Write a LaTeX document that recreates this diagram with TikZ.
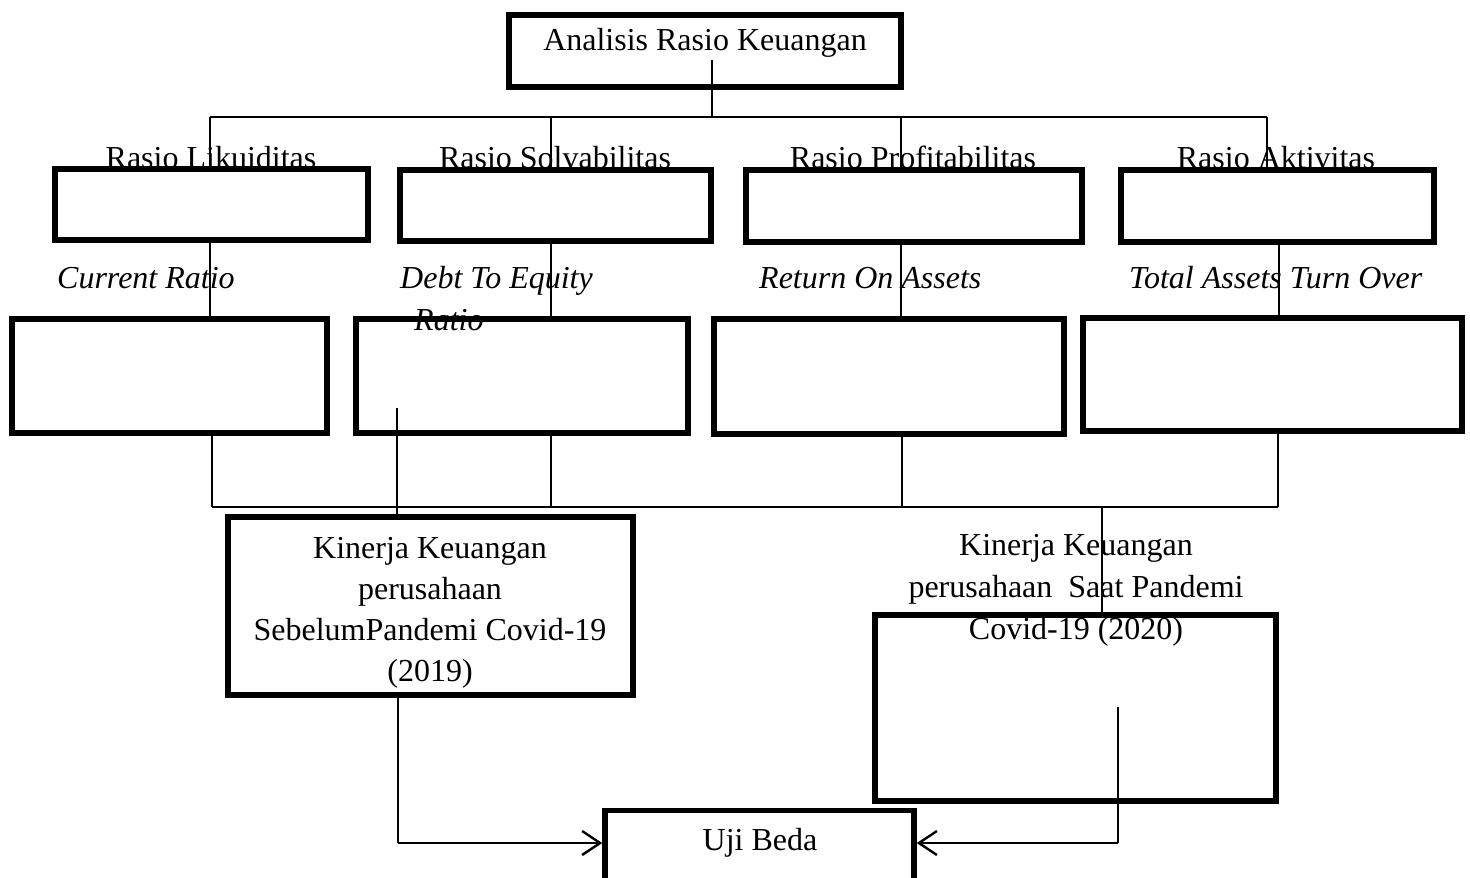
\documentclass[tikz,border=0pt]{standalone}
\usepackage{fontspec}
\setmainfont{Liberation Serif}
\usetikzlibrary{arrows.meta}

\begin{document}
\begin{tikzpicture}[x=1pt, y=-1pt,
	kotak/.style={draw, fill=white, line width=5.5pt, inner sep=0pt},
	garis/.style={line width=2pt},
	panah/.style={line width=2.4pt, -{Straight Barb[length=18pt, width=24pt, line width=2.4pt]}},
	teks/.style={anchor=base, inner sep=0pt, font=\fontsize{32}{41}\selectfont},
	miring/.style={anchor=base west, inner sep=0pt, font=\fontsize{32}{41}\selectfont\itshape}]
						\useasboundingbox (0,0) rectangle (1470,878);

						\node[teks] (tlik) at (211,168) {Rasio Likuiditas};
						\node[teks] (tsol) at (555,168) {Rasio Solvabilitas};
						\node[teks] (tpro) at (913,168) {Rasio Profitabilitas};
						\node[teks] (takt) at (1276,168) {Rasio Aktivitas};

						\node[kotak, minimum width=392, minimum height=72] (analisis) at (705,51) {};
						\node[kotak, minimum width=313, minimum height=71] (likuid) at (211.5,204.5) {};
						\node[kotak, minimum width=311, minimum height=71] (solva) at (555.5,205.5) {};
						\node[kotak, minimum width=336, minimum height=72] (profit) at (914,206) {};
						\node[kotak, minimum width=313, minimum height=72] (aktiv) at (1277.5,206) {};
						\node[kotak, minimum width=315, minimum height=114] (cr) at (169.5,376) {};
						\node[kotak, minimum width=332, minimum height=114] (der) at (522,376) {};
						\node[kotak, minimum width=350, minimum height=115] (roa) at (889,376.5) {};
						\node[kotak, minimum width=379, minimum height=113] (tato) at (1272.5,374.5) {};
						\node[kotak, minimum width=405, minimum height=178] (kin1) at (430.5,606) {};
						\node[kotak, minimum width=401, minimum height=186] (kin2) at (1075.5,708) {};
						\node[kotak, minimum width=309, minimum height=79] (uji) at (759.5,850) {};

						\node[teks] (tana) at (705,50) {Analisis Rasio Keuangan};
						\node[miring] (tcr) at (57,288) {Current Ratio};
						\node[miring] (tder) at (400,288) {Debt To Equity};
						\node[miring] (tder2) at (414,330) {Ratio};
						\node[miring] (troa) at (759,288) {Return On Assets};
						\node[miring] (ttato) at (1129,288) {Total Assets Turn Over};

						\foreach \t [count=\i] in {Kinerja Keuangan, perusahaan, SebelumPandemi Covid-19, (2019)} \node[teks] (tk1-\i) at (430,517+41*\i) {\t};
						\foreach \t [count=\i] in {Kinerja Keuangan, perusahaan~ Saat Pandemi, Covid-19 (2020)} \node[teks] (tk2-\i) at (1076,513+42*\i) {\t};
						\node[teks] (tuji) at (760,850) {Uji Beda};

						\coordinate (pusat) at (712,60);
						\coordinate (b1) at (210,117);
						\coordinate (b2) at (551,117);
						\coordinate (b3) at (901,117);
						\coordinate (b4) at (1267,117);
						\draw[garis] (pusat) -- (pusat |- b1);
						\draw[garis] (b1) -- (b4);
						\foreach \b/\n in {b1/likuid, b2/solva, b3/profit, b4/aktiv} \draw[garis] (\b) -- (\b |- \n.north);

						\foreach \x/\a/\c in {210/likuid/cr, 551/solva/der, 901/profit/roa, 1279/aktiv/tato} \draw[garis] (\x,0 |- \a.south) -- (\x,0 |- \c.north);

						\coordinate (c1) at (212,507);
						\coordinate (c2) at (551,507);
						\coordinate (c3) at (902,507);
						\coordinate (c4) at (1278,507);
						\coordinate (c5) at (1102,507);
						\foreach \c/\n in {c1/cr, c2/der, c3/roa, c4/tato} \draw[garis] (\c |- \n.south) -- (\c);
						\draw[garis] (c1) -- (c4);
						\draw[garis] (c5) -- (c5 |- kin2.north);

						\coordinate (d1) at (397,408);
						\draw[garis] (d1) -- (d1 |- kin1.north);

						\coordinate (e1) at (398,843);
						\coordinate (e2) at (1118,707);
						\coordinate (e3) at (1118,843);
						\draw[garis] (e1 |- kin1.south) -- (e1);
						\draw[panah] (e1) -- (e1 -| uji.west);
						\draw[garis] (e2) -- (e3);
						\draw[panah] (e3) -- (e3 -| uji.east);
					\end{tikzpicture}
\end{document}
